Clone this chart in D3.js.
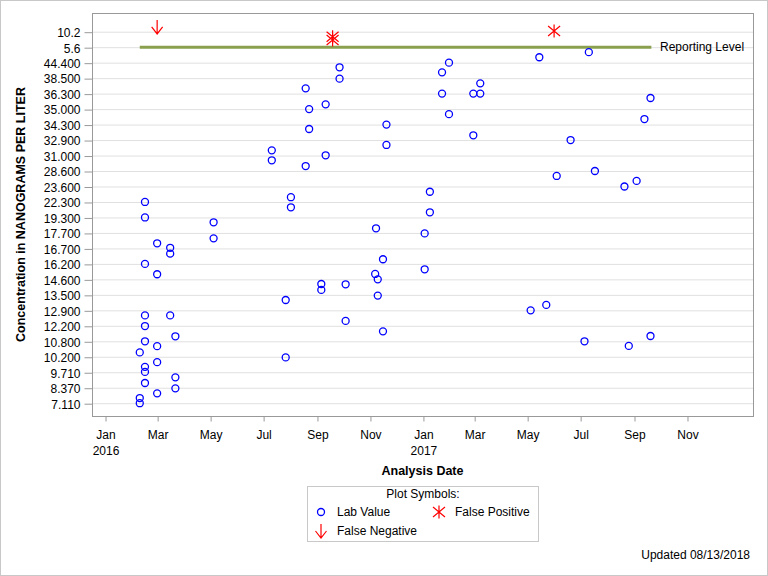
<!DOCTYPE html>
<html>
<head>
<meta charset="utf-8">
<script src="https://d3js.org/d3.v7.min.js"></script>
<style>
  body { margin: 0; background: #fff; }
  svg { display: block; font-family: "Liberation Sans", Arial, sans-serif; }
  .tick text { font-size: 12px; fill: #000; }
</style>
</head>
<body>
<div id="chart"></div>
<script>
// y axis rows, top to bottom (as printed on the chart)
const yLabels = ["10.2", "5.6", "44.400", "38.500", "36.300", "35.000", "34.300", "32.900",
  "31.000", "28.600", "23.600", "22.300", "19.300", "17.700", "16.700", "16.200", "14.600",
  "13.500", "12.900", "12.200", "10.800", "10.200", "9.710", "8.370", "7.110"];

const xTickDates = ["2016-01-01", "2016-03-01", "2016-05-01", "2016-07-01", "2016-09-01", "2016-11-01",
  "2017-01-01", "2017-03-01", "2017-05-01", "2017-07-01", "2017-09-01", "2017-11-01"];

// Lab values (ng/L)
const labDates = [
  "2016-02-10", "2016-02-10", "2016-02-10",
  "2016-02-16", "2016-02-16", "2016-02-16", "2016-02-16", "2016-02-16", "2016-02-16", "2016-02-16", "2016-02-16", "2016-02-16",
  "2016-03-01", "2016-03-01", "2016-03-01", "2016-03-01", "2016-03-01",
  "2016-03-16", "2016-03-16", "2016-03-16",
  "2016-03-22", "2016-03-22", "2016-03-22",
  "2016-05-05", "2016-05-05",
  "2016-07-11", "2016-07-11",
  "2016-07-27", "2016-07-27",
  "2016-08-02", "2016-08-02",
  "2016-08-19", "2016-08-19",
  "2016-08-23", "2016-08-23",
  "2016-09-06", "2016-09-06",
  "2016-09-11", "2016-09-11",
  "2016-09-27", "2016-09-27",
  "2016-10-04", "2016-10-04",
  "2016-11-07", "2016-11-08",
  "2016-11-10", "2016-11-10",
  "2016-11-16", "2016-11-16",
  "2016-11-20", "2016-11-20",
  "2017-01-03", "2017-01-03",
  "2017-01-09", "2017-01-09",
  "2017-01-23", "2017-01-23",
  "2017-01-31", "2017-01-31",
  "2017-02-28", "2017-02-28",
  "2017-03-08", "2017-03-08",
  "2017-05-05", "2017-05-15", "2017-05-23", "2017-06-04", "2017-06-20",
  "2017-07-06", "2017-07-11", "2017-07-18",
  "2017-08-21", "2017-08-26", "2017-09-04", "2017-09-13",
  "2017-09-20", "2017-09-20"
];
const labValues = [
  10.37, 7.53, 7.11,
  22.3, 19.3, 16.2, 12.67, 12.18, 10.8, 9.88, 9.72, 8.78,
  17.03, 15.13, 10.61, 10.03, 7.91,
  16.74, 16.53, 12.67,
  11.25, 9.27, 8.32,
  18.8, 17.35,
  31.64, 30.26,
  13.3, 10.18,
  22.7, 21.27,
  37.05, 29.37,
  35.0, 33.9,
  14.27, 13.85,
  35.4, 31.03,
  42.64, 38.43,
  14.25, 12.42,
  15.16, 18.18,
  14.6, 13.47,
  16.35, 11.7,
  34.3, 32.3,
  17.67, 15.64,
  23.16, 20.3,
  40.72, 36.3,
  44.4, 34.77,
  36.3, 33.33,
  37.76, 36.3,
  12.9, 46.47, 13.11, 27.0, 32.9,
  10.8, 48.4, 28.6,
  23.6, 10.62, 25.4, 34.55,
  35.93, 11.28
];

// False positives / negatives (top band: 5.6 .. 10.2)
const fpDates = ["2016-09-19", "2016-09-19", "2017-06-01"];
const fpValues = [8.72, 7.74, 10.4];
const fnDates = ["2016-03-01"];
const fnValues = [11.6];

// Reporting level line
const reportLevel = 5.6;
const reportStart = "2016-02-10";
const reportEnd = "2017-09-21";

const W = 768, H = 576;
const plot = { left: 92, right: 753, top: 13, bottom: 416 };
const parse = d3.timeParse("%Y-%m-%d");

const svg = d3.select("#chart").append("svg")
  .attr("width", W).attr("height", H);

svg.append("rect")
  .attr("x", 0.5).attr("y", 0.5).attr("width", W - 1).attr("height", H - 1)
  .attr("fill", "#fff").attr("stroke", "#c8c8c8");

// scales
const x = d3.scaleTime()
  .domain([parse("2015-12-17"), parse("2018-01-16")])
  .range([plot.left, plot.right]);

const row = d3.scaleLinear().domain([0, yLabels.length - 1]).range([31.7, 403.2]);

// lab rows are a piecewise scale over the printed values
const labLevels = yLabels.slice(2).map(Number).reverse();
const labRows = d3.range(yLabels.length - 1, 1, -1);
const yLab = d3.scaleLinear().domain(labLevels).range(labRows.map(row));
const yTop = d3.scaleLinear().domain([5.6, 10.2]).range([row(1), row(0)]);

// gridlines
svg.append("g").selectAll("line")
  .data(d3.range(yLabels.length))
  .join("line")
  .attr("x1", plot.left).attr("x2", plot.right)
  .attr("y1", d => row(d) + 0.5).attr("y2", d => row(d) + 0.5)
  .attr("stroke", "#e0e0e0");

// frame
svg.append("rect")
  .attr("x", plot.left + 0.5).attr("y", plot.top + 0.5)
  .attr("width", plot.right - plot.left).attr("height", plot.bottom - plot.top)
  .attr("fill", "none").attr("stroke", "#999");

// y axis
const yAxis = svg.append("g")
  .attr("transform", `translate(${plot.left + 0.5},0.5)`)
  .call(d3.axisLeft(row).tickValues(d3.range(yLabels.length))
    .tickFormat(i => yLabels[i]).tickSize(8).tickPadding(4));
yAxis.select(".domain").remove();
yAxis.selectAll(".tick line").attr("stroke", "#999");
yAxis.selectAll(".tick text").attr("dy", "0.36em");

// x axis
const fmtMonth = d3.timeFormat("%b");
const xAxis = svg.append("g")
  .attr("transform", `translate(0.5,${plot.bottom + 0.5})`)
  .call(d3.axisBottom(x).tickValues(xTickDates.map(parse))
    .tickFormat(fmtMonth).tickSize(5).tickPadding(9));
xAxis.select(".domain").remove();
xAxis.selectAll(".tick line").attr("stroke", "#999");
xAxis.selectAll(".tick text")
  .filter(d => d.getMonth() === 0)
  .append("tspan").attr("x", 0).attr("dy", "1.3em")
  .text(d => d.getFullYear());

// axis titles
svg.append("text")
  .attr("x", (plot.left + plot.right) / 2).attr("y", 475)
  .attr("text-anchor", "middle").attr("font-size", 12.5).attr("font-weight", "bold")
  .text("Analysis Date");

svg.append("text")
  .attr("transform", `translate(25,${(plot.top + plot.bottom) / 2}) rotate(-90)`)
  .attr("text-anchor", "middle").attr("font-size", 12.5).attr("font-weight", "bold")
  .text("Concentration in NANOGRAMS PER LITER");

// reporting level
svg.append("line")
  .attr("x1", x(parse(reportStart))).attr("x2", x(parse(reportEnd)))
  .attr("y1", yTop(reportLevel)).attr("y2", yTop(reportLevel))
  .attr("stroke", "#8aa04f").attr("stroke-width", 3);
svg.append("text")
  .attr("x", 660).attr("y", yTop(reportLevel) + 4)
  .attr("font-size", 12).text("Reporting Level");

// markers
const starPath = "M-6,-5L6,5M-6,5L6,-5M0,-6.5L0,6.5";
const arrowPath = "M0,-7L0,7M-5.5,0L0,7L5.5,0";

svg.append("g").selectAll("circle")
  .data(labValues)
  .join("circle")
  .attr("cx", (d, i) => x(parse(labDates[i])))
  .attr("cy", d => yLab(d))
  .attr("r", 3.5)
  .attr("fill", "none").attr("stroke", "#0000ff").attr("stroke-width", 1.3);

svg.append("g").selectAll("path")
  .data(fpValues)
  .join("path")
  .attr("transform", (d, i) => `translate(${x(parse(fpDates[i]))},${yTop(d)})`)
  .attr("d", starPath)
  .attr("fill", "none").attr("stroke", "#ff0000").attr("stroke-width", 1.2);

svg.append("g").selectAll("path")
  .data(fnValues)
  .join("path")
  .attr("transform", (d, i) => `translate(${x(parse(fnDates[i]))},${yTop(d)})`)
  .attr("d", arrowPath)
  .attr("fill", "none").attr("stroke", "#ff0000").attr("stroke-width", 1.2);

// legend
const lg = svg.append("g");
lg.append("rect")
  .attr("x", 307.5).attr("y", 486.5).attr("width", 231).attr("height", 55)
  .attr("fill", "#fff").attr("stroke", "#c8c8c8");
lg.append("text").attr("x", 423).attr("y", 498)
  .attr("text-anchor", "middle").attr("font-size", 12).text("Plot Symbols:");
lg.append("circle").attr("cx", 321).attr("cy", 512).attr("r", 3.5)
  .attr("fill", "none").attr("stroke", "#0000ff").attr("stroke-width", 1.3);
lg.append("text").attr("x", 337).attr("y", 516).attr("font-size", 12).text("Lab Value");
lg.append("path").attr("transform", "translate(439,512)").attr("d", starPath)
  .attr("fill", "none").attr("stroke", "#ff0000").attr("stroke-width", 1.2);
lg.append("text").attr("x", 455).attr("y", 516).attr("font-size", 12).text("False Positive");
lg.append("path").attr("transform", "translate(321,531)").attr("d", arrowPath)
  .attr("fill", "none").attr("stroke", "#ff0000").attr("stroke-width", 1.2);
lg.append("text").attr("x", 337).attr("y", 535).attr("font-size", 12).text("False Negative");

// footnote
svg.append("text")
  .attr("x", 750).attr("y", 559).attr("text-anchor", "end")
  .attr("font-size", 12).text("Updated 08/13/2018");
</script>
</body>
</html>
